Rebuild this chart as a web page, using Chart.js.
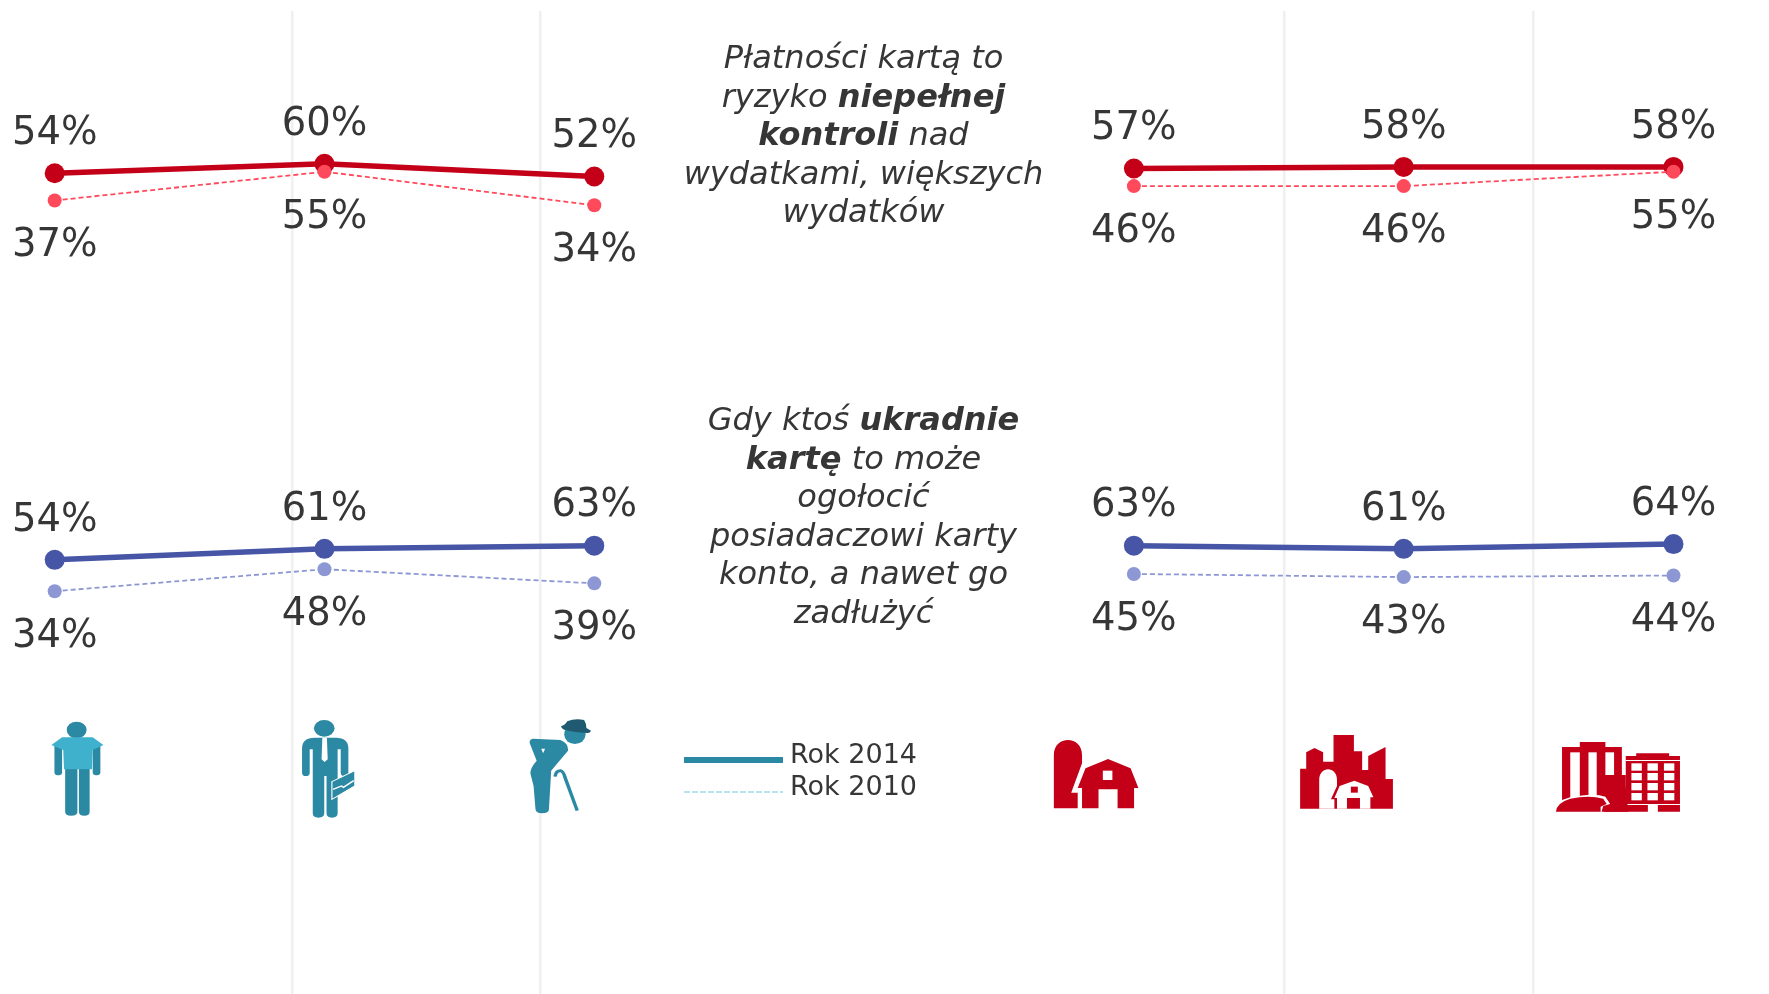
<!DOCTYPE html>
<html lang="pl">
<head>
<meta charset="utf-8">
<title>Płatności kartą</title>
<script src="https://cdn.jsdelivr.net/npm/chart.js@4/dist/chart.umd.min.js"></script>
<style>
html,body{margin:0;padding:0;background:#fff;width:1769px;height:994px;overflow:hidden;font-family:"DejaVu Sans",sans-serif;color:#363636}
#wrap{position:relative;width:1769px;height:994px}
canvas{position:absolute;left:0;top:0}
.q{position:absolute;left:663.5px;width:400px;text-align:center;font-style:italic;font-size:32px;line-height:38.5px;white-space:nowrap}
.q b{font-weight:bold}
.lg{position:absolute;left:790px;font-size:27px;line-height:32px;white-space:nowrap}
svg{position:absolute;left:0;top:0}
</style>
</head>
<body>
<div id="wrap">
<canvas id="c" width="1769" height="994"></canvas>
<div class="q" style="top:38px">Płatności kartą to<br>ryzyko <b>niepełnej</b><br><b>kontroli</b> nad<br>wydatkami, większych<br>wydatków</div>
<div class="q" style="top:400px">Gdy ktoś <b>ukradnie</b><br><b>kartę</b> to może<br>ogołocić<br>posiadaczowi karty<br>konto, a nawet go<br>zadłużyć</div>
<div class="lg" style="top:738px">Rok 2014</div>
<div class="lg" style="top:770px">Rok 2010</div>
<svg width="1769" height="994" viewBox="0 0 1769 994">
  <line x1="684" x2="783" y1="760" y2="760" stroke="#2b89a3" stroke-width="6"/>
  <line x1="684" x2="783" y1="792" y2="792" stroke="#b7e3ee" stroke-width="2" stroke-dasharray="6 2"/>
  <g transform="translate(20,700) scale(0.3827,0.3333)" fill="#2b89a3">
    <ellipse cx="148" cy="90" rx="26" ry="25"/>
    <rect x="90" y="130" width="20" height="96" rx="9"/>
    <rect x="190" y="130" width="20" height="96" rx="9"/>
    <path d="M118 200H150V335Q150 347 134 347Q118 347 118 335ZM154 200H182V335Q182 347 168 347Q154 347 154 335Z"/>
    <path fill="#3fb1cc" d="M82 135L110 112L190 112L218 135L190 150L188 208L115 208L113 150Z"/>
    <ellipse cx="795" cy="85" rx="27" ry="25"/>
    <path d="M737 145Q737 113 770 113H825Q858 113 858 145V218Q858 228 848 228Q838 228 838 218V148H830V340Q830 353 815 353Q801 353 801 340V228H795V340Q795 353 780 353Q765 353 765 340V148H757V218Q757 228 747 228Q737 228 737 218Z"/>
    <path fill="#fff" d="M790 113H802L804 178L796 186L788 178Z"/>
    <path stroke="#fff" stroke-width="3" d="M815 245L875 212V258L815 298Z"/>
    <path fill="none" stroke="#fff" stroke-width="4" d="M818 268L840 258L845 262L872 242"/>
    <ellipse cx="1450" cy="103" rx="28" ry="29"/>
    <path fill="#1f5a70" d="M1414 78Q1424 76 1430 64Q1450 54 1474 60Q1480 70 1480 84L1492 92Q1490 100 1482 99Q1450 98 1424 90Q1414 86 1414 78Z"/>
    <path d="M1340 116L1412 120Q1434 130 1432 152L1388 212L1382 330Q1380 340 1364 340Q1348 340 1347 328L1342 258L1334 222Q1332 206 1350 182L1332 130Q1330 118 1340 116ZM1362 146L1372 146L1367 160Z" fill-rule="evenodd"/>
    <path fill="none" stroke="#2b89a3" stroke-width="9" d="M1398 230Q1400 212 1412 212Q1420 214 1424 232L1456 332"/>
  </g>
  <g transform="translate(1030,700) scale(0.4336,0.3333)" fill="#c40018">
    <path d="M55 325V165C55 105 120 105 120 165V190L95 278H110V325Z"/>
    <path d="M110 264L128 205L180 177L232 205L250 264H240V325H202V268H158V325H120V264Z"/>
    <rect x="168" y="212" width="22" height="28" fill="#fff"/>
    <path d="M623 326V206H637V157L656 144L676 157V185H700V105H747V154H766V210H780V168L820 141V237H837V326Z"/>
    <path fill="#fff" d="M667 326V240C667 197 708 197 708 240V258L694 298H702V326Z"/>
    <path fill="#fff" d="M708 326V294H702L714 258L748 242L780 258L792 292H785V326Z"/>
    <rect x="731" y="294" width="30" height="32"/>
    <rect x="740" y="260" width="16" height="18"/>
    <path d="M1227 320V141H1268V126H1327V141H1365V225H1374V335H1227Z"/>
    <rect x="1246" y="157" width="22" height="138" fill="#fff"/>
    <rect x="1288" y="157" width="19" height="135" fill="#fff"/>
    <rect x="1327" y="157" width="20" height="68" fill="#fff"/>
    <path fill="#fff" d="M1246 292Q1300 278 1327 290L1338 312L1322 318L1318 336H1227V300Z"/>
    <path d="M1213 335Q1215 308 1246 296Q1290 284 1322 296L1330 312L1316 320V335Z"/>
    <path d="M1327 228Q1350 222 1368 232L1380 300V335H1324V322L1340 312L1327 285Z"/>
    <path d="M1374 168H1398V160H1474V168H1499V335H1448V315H1425V335H1374Z"/>
    <rect x="1374" y="180" width="125" height="3" fill="#fff"/>
    <g fill="#fff">
      <rect x="1387" y="190" width="24" height="22"/><rect x="1424" y="190" width="24" height="22"/><rect x="1462" y="190" width="24" height="22"/>
      <rect x="1387" y="219" width="24" height="22"/><rect x="1424" y="219" width="24" height="22"/><rect x="1462" y="219" width="24" height="22"/>
      <rect x="1387" y="249" width="24" height="22"/><rect x="1424" y="249" width="24" height="22"/><rect x="1462" y="249" width="24" height="22"/>
      <rect x="1387" y="279" width="24" height="22"/><rect x="1424" y="279" width="24" height="22"/><rect x="1462" y="279" width="24" height="22"/>
      <rect x="1378" y="312" width="121" height="3"/>
    </g>
  </g>
</svg>
</div>
<script>
// Chart values
const segments = ['Osoba młoda', 'Osoba pracująca', 'Senior', '', 'Wieś', 'Średnie miasto', 'Duże miasto'];
const kontrola2014 = [54, 60, 52, null, 57, 58, 58];
const kontrola2010 = [37, 55, 34, null, 46, 46, 55];
const kradziez2014 = [54, 61, 63, null, 63, 61, 64];
const kradziez2010 = [34, 48, 39, null, 45, 43, 44];
const gridStops = [0.8795, 1.8006, 4.558, 5.479];
const legendNames = ['Rok 2014', 'Rok 2010'];

const pts = arr => arr.map((v, i) => ({ x: i, y: v }));
const mk = (label, data, axis, color, main) => ({
  label, data: pts(data), yAxisID: axis, spanGaps: false,
  borderColor: color, backgroundColor: color,
  pointBackgroundColor: color, pointBorderColor: color, pointBorderWidth: 0,
  borderWidth: main ? 5.5 : 1.8, borderDash: main ? [] : [5, 3],
  pointRadius: main ? 10 : 7, pointHoverRadius: main ? 10 : 7,
  tension: 0, labelPos: main ? 'above' : 'below'
});

const valueLabels = {
  id: 'valueLabels',
  afterDatasetsDraw(chart) {
    const ctx = chart.ctx;
    ctx.save();
    ctx.font = '38.5px "DejaVu Sans"';
    ctx.fillStyle = '#363636';
    ctx.textAlign = 'center';
    ctx.textBaseline = 'alphabetic';
    chart.data.datasets.forEach((ds, i) => {
      chart.getDatasetMeta(i).data.forEach((el, j) => {
        const v = ds.data[j].y;
        if (v === null) return;
        const dy = ds.labelPos === 'above' ? -42.5 : 42.5;
        ctx.fillText(v + '%', el.x, el.y + dy + 13.3);
      });
    });
    ctx.restore();
  }
};

new Chart(document.getElementById('c'), {
  type: 'line',
  data: {
    labels: segments,
    datasets: [
      mk(legendNames[1] + ' – kontrola', kontrola2010, 'yTop', '#ff4a5c', false),
      mk(legendNames[0] + ' – kontrola', kontrola2014, 'yTop', '#c40018', true),
      mk(legendNames[1] + ' – kradzież', kradziez2010, 'yBottom', '#8d97d3', false),
      mk(legendNames[0] + ' – kradzież', kradziez2014, 'yBottom', '#4655a6', true)
    ]
  },
  options: {
    responsive: false, animation: false, devicePixelRatio: 1,
    layout: { autoPadding: false, padding: { top: 11, left: 0, right: 0, bottom: 0 } },
    plugins: { legend: { display: false }, tooltip: { enabled: false }, title: { display: false } },
    scales: {
      x: {
        type: 'linear', min: -0.2027, max: 6.354,
        afterBuildTicks: s => { s.ticks = gridStops.map(value => ({ value })); },
        grid: { color: '#f0f0f0', lineWidth: 2.5, drawTicks: false },
        border: { display: false },
        ticks: { display: false }
      },
      yTop: { display: false, min: -458.94, max: 155.44 },
      yBottom: { display: false, min: -222.55, max: 403.57 }
    }
  },
  plugins: [valueLabels]
});
</script>
</body>
</html>
